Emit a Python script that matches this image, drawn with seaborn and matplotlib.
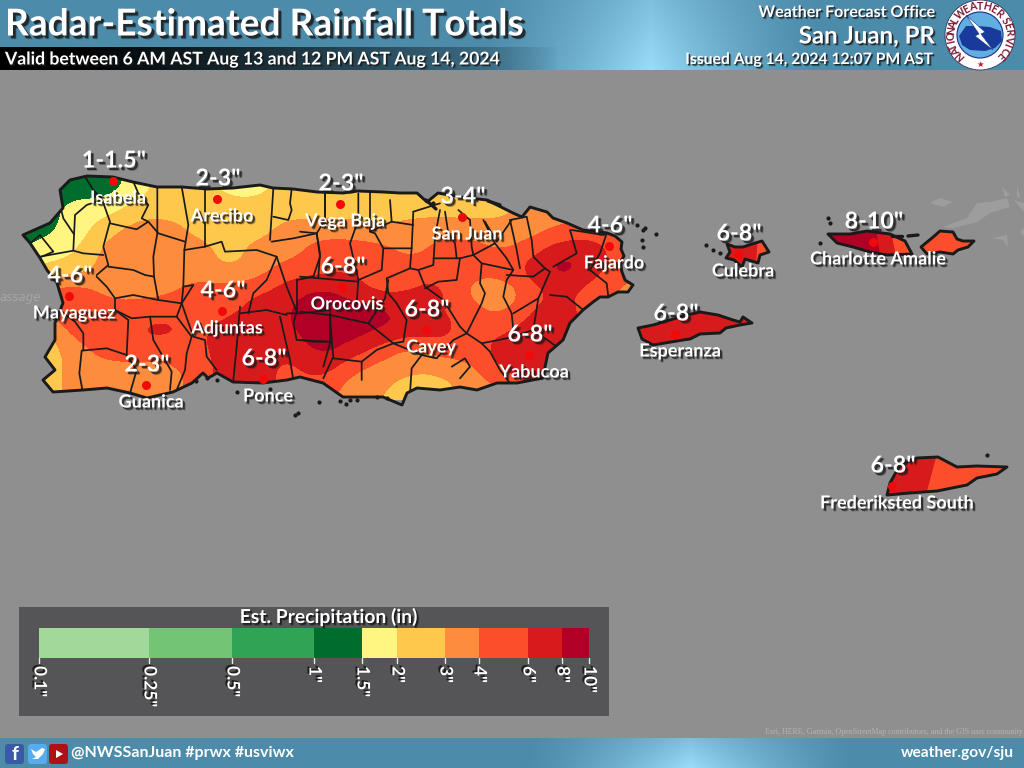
#!/usr/bin/env python3
"""Radar-estimated rainfall map for Puerto Rico and the USVI."""

import numpy as np
import pandas as pd
import matplotlib

matplotlib.use("Agg")
import matplotlib.pyplot as plt
import matplotlib.patheffects as pe
import seaborn as sns
from matplotlib.colors import BoundaryNorm, ListedColormap, to_rgb
from matplotlib.patches import Circle, FancyBboxPatch, Polygon

sns.set_theme(style="white")
plt.rcParams["font.family"] = ["Lato", "DejaVu Sans"]

# Legend bins
LEVELS = [0.1, 0.25, 0.5, 1, 1.5, 2, 3, 4, 6, 8, 10]
LEVEL_LABELS = ['0.1"', '0.25"', '0.5"', '1"', '1.5"', '2"', '3"', '4"', '6"', '8"', '10"']
BIN_COLORS = [
    "#A1D99B", "#74C476", "#31A354", "#006D2C", "#FFF580",
    "#FEC84D", "#FD8D3C", "#FC4E2A", "#D71A1C", "#B00026",
]

# Rainfall (inches) at every grid node
GRID_X = [20, 50, 80, 110, 140, 170, 200, 230, 260, 290, 320, 350, 380, 410, 440, 470, 500, 530, 560, 590, 620, 650]
GRID_Y = [170, 190, 210, 230, 250, 270, 290, 310, 330, 350, 370, 390]
RAIN_170 = [1.2, 1.2, 1.2, 1.2, 1.8, 2.5, 2.2, 1.8, 1.8, 2.5, 2.5, 2.5, 2.5, 2.5, 2.5, 2.5, 2.5, 3.5, 3.5, 3.5, 3.5, 3.5]
RAIN_190 = [1.2, 1.2, 1.2, 1.2, 1.8, 2.5, 2.5, 1.8, 1.8, 2.5, 2.5, 2.5, 2.5, 2.5, 1.8, 2.5, 2.5, 3.5, 3.5, 3.5, 3.5, 3.5]
RAIN_210 = [1.2, 1.3, 1.8, 1.8, 2.5, 2.5, 2.5, 2.5, 2.5, 2.5, 2.5, 2.5, 2.5, 2.5, 2.7, 2.5, 2.5, 3.5, 3.5, 3.5, 5, 5]
RAIN_230 = [1.2, 1.3, 1.8, 2.5, 3.5, 3.5, 2.5, 2.5, 2.5, 3.5, 3.5, 3.5, 3.0, 3.5, 3.5, 3.5, 3.5, 3.5, 4.2, 5, 5, 5]
RAIN_250 = [1.4, 1.8, 1.9, 3.5, 4.5, 3.7, 3.5, 2.5, 3.5, 3.5, 5, 5, 5, 3.5, 5, 5, 3.8, 5, 7.5, 7, 5, 5]
RAIN_270 = [1.8, 2.2, 2.5, 3.5, 3.5, 3.5, 3.5, 2.8, 3.5, 5, 5, 6, 5, 5, 5, 5, 5, 7, 9.6, 7, 5, 5]
RAIN_290 = [3, 4.5, 5, 3.5, 3.5, 3.7, 5, 5, 5.6, 7, 8.6, 7, 5, 6, 7, 3.5, 3, 5, 6.5, 5, 3.5, 3.5]
RAIN_310 = [4, 5, 6.5, 5, 5, 5.5, 5.2, 5.4, 7, 8, 9.6, 9, 9, 7, 6, 5, 3.5, 6.2, 7, 5, 5, 5]
RAIN_330 = [2.5, 2.5, 5.5, 5.5, 6.4, 6.6, 5.5, 7, 7, 7.5, 9.6, 9, 8, 7, 7, 5, 5.8, 7, 7, 5, 5, 5]
RAIN_350 = [2.5, 2.5, 3.5, 5, 5, 5, 5.5, 7, 7, 6, 8.8, 7, 5, 3.5, 5, 5, 7, 7, 6.5, 5, 5, 5]
RAIN_370 = [2.5, 2.5, 3.5, 3.5, 3.5, 3.5, 5, 7, 7, 5, 7, 4, 3.5, 3, 3, 3.5, 6.3, 7, 7, 5, 5, 5]
RAIN_390 = [2.5, 2.5, 3.5, 3.5, 3.5, 3.5, 5, 7, 7, 5, 5, 3.5, 3, 2.5, 2.5, 3.5, 3.5, 6, 6, 5, 5, 5]

# Map geography, in picture pixels
PR_OUTLINE = [
    (23, 235), (50, 223), (63, 208), (60, 190), (70, 180), (87, 176), (113, 177), (133, 182),
    (157, 187), (182, 187), (207, 189), (233, 188), (260, 185), (273, 188), (293, 189), (317, 192),
    (343, 193), (358, 191), (383, 192), (400, 193), (417, 193), (427, 202), (438, 193), (460, 197),
    (487, 200), (497, 205), (513, 213), (522, 217), (530, 207), (547, 212), (553, 218), (567, 223),
    (583, 230), (607, 233), (615, 236), (622, 242), (621, 249), (624, 256), (620, 263), (622, 272),
    (625, 280), (633, 285), (628, 292), (618, 292), (608, 297), (600, 297), (593, 302), (583, 310),
    (570, 323), (563, 340), (548, 353), (545, 367), (543, 378), (517, 383), (497, 383), (477, 390),
    (460, 387), (440, 390), (417, 388), (407, 393), (402, 405), (383, 397), (367, 397), (343, 397),
    (323, 383), (300, 377), (287, 380), (263, 383), (233, 382), (217, 373), (208, 378), (203, 373),
    (192, 383), (173, 392), (147, 398), (130, 393), (107, 388), (83, 390), (53, 392), (43, 380),
    (55, 370), (45, 357), (55, 340), (55, 323), (63, 303), (57, 283), (47, 270), (40, 258), (30, 243),
]
WEST_TOWNS = [  # zoomed crop coordinates, origin (0, 140), 3x
    [(255, 110), (280, 150), (305, 175), (330, 245), (310, 320), (325, 375), (290, 405)],
    [(305, 180), (260, 195), (225, 225), (220, 330)],
    [(185, 215), (190, 235), (220, 280)],
    [(90, 310), (120, 285), (160, 335), (125, 350)],
    [(120, 350), (220, 332), (250, 340), (310, 345)],
    [(330, 250), (410, 268), (445, 245), (425, 235), (445, 195), (415, 160), (400, 125)],
    [(445, 245), (475, 280), (555, 305)],
    [(472, 142), (472, 280), (460, 350), (462, 410), (475, 480)],
    [(545, 140), (565, 255), (553, 330), (550, 440), (545, 490)],
    [(615, 148), (615, 320), (665, 305), (675, 335), (770, 330), (830, 350), (800, 420), (760, 460), (745, 520)],
    [(553, 330), (615, 320)],
    [(325, 380), (400, 390), (435, 405), (462, 410)],
    [(290, 410), (320, 440), (345, 475), (400, 465), (475, 480), (545, 490), (580, 435), (550, 440)],
    [(545, 490), (530, 530), (450, 530), (395, 535), (345, 510), (345, 475)],
    [(345, 510), (385, 540), (380, 645), (320, 625), (245, 632), (238, 700), (248, 755)],
    [(250, 630), (250, 580), (225, 545), (190, 520)],
    [(450, 530), (460, 600), (515, 695), (510, 750)],
    [(380, 645), (410, 690), (390, 760)],
    [(530, 530), (575, 590), (560, 640), (555, 690), (530, 750)],
    [(545, 490), (580, 590), (615, 600), (620, 650), (650, 690)],
    [(720, 500), (710, 620), (700, 720)],
    [(720, 520), (800, 510), (860, 525)],
    [(840, 530), (870, 660), (880, 720)],
    [(830, 350), (860, 440), (890, 515), (880, 550), (890, 600), (980, 605)],
    [(890, 420), (940, 410), (960, 350), (950, 280), (880, 295), (815, 305)],
    [(820, 145), (810, 300)],
    [(875, 147), (870, 190), (875, 210), (865, 240), (820, 230)],
    [(975, 155), (975, 240), (950, 280)],
    [(860, 520), (900, 520), (990, 510)],
    [(990, 520), (990, 610), (970, 680)],
    [(890, 420), (890, 515)],
]
EAST_TOWNS = [  # zoomed crop coordinates, origin (300, 170), 3x
    [(0, 185), (50, 190), (60, 250), (55, 320)],
    [(75, 70), (75, 170)],
    [(175, 70), (175, 150), (150, 220), (175, 330), (170, 400)],
    [(210, 65), (210, 185), (225, 190), (250, 235), (245, 300), (175, 330)],
    [(270, 90), (275, 155), (210, 185)],
    [(275, 155), (340, 165)],
    [(340, 125), (335, 235), (250, 235)],
    [(335, 235), (330, 295), (260, 325), (265, 370), (290, 400), (320, 450), (310, 515), (280, 520)],
    [(340, 125), (420, 100)],
    [(420, 120), (405, 200), (400, 285), (355, 300), (330, 295)],
    [(355, 300), (375, 350), (430, 390), (480, 470), (500, 490)],
    [(480, 265), (470, 330), (415, 335), (375, 355)],
    [(400, 265), (480, 265), (520, 255), (585, 220), (550, 150)],
    [(435, 125), (445, 190), (465, 220), (470, 265)],
    [(475, 120), (510, 150), (515, 230), (520, 255)],
    [(520, 255), (545, 280), (540, 340), (555, 370), (545, 400), (520, 450), (500, 490)],
    [(545, 280), (640, 300), (620, 330), (610, 380), (635, 430), (640, 480)],
    [(585, 220), (620, 265), (640, 300)],
    [(630, 150), (680, 140), (695, 210), (700, 260), (735, 295)],
    [(630, 150), (650, 240), (660, 295)],
    [(555, 155), (590, 215), (635, 150)],
    [(735, 295), (700, 320), (620, 315)],
    [(735, 295), (750, 305), (715, 385), (640, 430)],
    [(750, 375), (800, 380), (850, 420)],
    [(715, 385), (700, 480), (770, 530)],
    [(500, 490), (545, 520), (570, 545), (600, 600), (630, 640)],
    [(545, 520), (620, 505), (700, 480)],
    [(500, 490), (460, 510), (410, 565), (365, 555), (335, 595), (330, 670)],
    [(365, 555), (280, 520), (205, 460), (90, 435), (0, 425)],
    [(90, 435), (95, 510), (100, 560), (70, 625)],
    [(0, 510), (40, 515), (95, 515)],
    [(100, 565), (185, 575), (185, 630)],
    [(280, 520), (230, 540), (185, 575)],
    [(265, 330), (255, 385), (205, 460)],
    [(0, 320), (175, 335)],
    [(810, 180), (830, 250), (760, 290)],
    [(815, 180), (910, 195), (920, 190), (900, 250), (870, 300), (920, 340), (925, 380)],
    [(455, 590), (495, 565), (510, 590), (480, 625)],
]
VIEQUES = [(638, 328), (653, 325), (687, 315), (700, 312), (718, 315), (733, 320), (740, 322), (743, 317), (752, 323),
           (740, 325), (726, 328), (720, 333), (700, 334), (690, 339), (683, 340), (653, 345), (642, 339)]
CULEBRA = [(727, 244), (735, 247), (743, 247), (752, 244), (762, 241), (769, 252), (760, 255), (758, 263), (745, 259),
           (742, 267), (734, 260), (726, 258), (730, 252)]
ST_THOMAS = [(828, 234), (850, 234), (867, 231), (890, 234), (905, 241), (912, 254), (887, 255), (870, 252),
             (853, 247), (837, 243)]
ST_JOHN = [(921, 247), (932, 238), (940, 231), (953, 232), (957, 239), (963, 241), (974, 241), (968, 247), (958, 250),
           (953, 254), (940, 252), (927, 254)]
ST_CROIX = [(887, 495), (890, 483), (900, 465), (917, 458), (938, 457), (957, 467), (977, 466), (1007, 467),
            (997, 474), (977, 478), (967, 485), (937, 491), (910, 493)]
# island shape, base rain, then (rain, patch) pieces laid over it
ISLANDS = [
    (VIEQUES, 7, []),
    (CULEBRA, 7, [(5, [(758, 235), (775, 235), (775, 265), (756, 265)])]),
    (ST_THOMAS, 9, [(7, [(876, 228), (890, 228), (896, 256), (880, 256)]),
                    (5, [(890, 228), (915, 228), (915, 256), (896, 256)])]),
    (ST_JOHN, 5, []),
    (ST_CROIX, 7, [(5, [(938, 450), (1010, 450), (1010, 495), (926, 495)])]),
]
CAY_LINES = [[(908, 236), (918, 235)], [(892, 236), (902, 236)], [(426, 200), (436, 209)], [(488, 201), (500, 205)]]
ISLET_X = [319, 350, 357, 377, 387, 643, 642, 645, 656, 706, 713, 720, 828, 820, 830, 987, 433, 217, 207, 196, 295,
           298, 237, 270, 340, 346, 643, 637]
ISLET_Y = [402, 400, 400, 397, 398, 230, 240, 228, 234, 245, 250, 253, 218, 243, 223, 455, 203, 380, 378, 381, 415,
           413, 392, 389, 401, 404, 247, 225]
FAINT_ISLANDS = [
    [(943, 227), (967, 218), (977, 203), (990, 202), (1007, 198), (1010, 207), (990, 213), (977, 222), (953, 228)],
    [(930, 203), (940, 198), (953, 202), (943, 207)],
    [(992, 238), (1007, 235), (1008, 247), (1003, 240)],
    [(1002, 187), (1010, 195), (1005, 197)],
    [(1017, 185), (1020, 197), (1017, 198)],
    [(1014, 200), (1024, 203), (1024, 212)],
    [(1020, 232), (1024, 228), (1024, 236)],
]

# City labels
CITY_NAMES = ["Isabela", "Arecibo", "Vega Baja", "San Juan", "Fajardo", "Culebra", "Charlotte Amalie", "Esperanza",
              "Frederiksted South", "Mayaguez", "Adjuntas", "Orocovis", "Cayey", "Yabucoa", "Guanica", "Ponce"]
CITY_RAIN = ['1-1.5"', '2-3"', '2-3"', '3-4"', '4-6"', '6-8"', '8-10"', '6-8"',
             '6-8"', '4-6"', '4-6"', '6-8"', '6-8"', '6-8"', '2-3"', '6-8"']
CITY_X = [113, 217, 340, 462, 609, 738, 873, 675, 892, 69, 222, 342, 426, 529, 146, 263]
CITY_Y = [181, 199, 204, 217, 246, 254, 242, 334, 486, 296, 311, 287, 330, 355, 385, 379]

TITLE = "Radar-Estimated Rainfall Totals"
SUBTITLE = "Valid between 6 AM AST Aug 13 and 12 PM AST Aug 14, 2024"
ISSUED = "Issued Aug 14, 2024 12:07 PM AST"
CREDIT = "Esri, HERE, Garmin, OpenStreetMap contributors, and the GIS user community"


def shadow(dx=1.5, dy=-1.5, alpha=0.75):
    return [
        pe.SimplePatchShadow(offset=(dx + 0.6, dy - 0.6), shadow_rgbFace="k", alpha=alpha * 0.4),
        pe.SimplePatchShadow(offset=(dx, dy), shadow_rgbFace="k", alpha=alpha),
        pe.Normal(),
    ]


def gradient_band(ax, y0, y1, light_x, fade):
    """Blue band with a pale glow around light_x."""
    base = np.array(to_rgb("#4D8BAA"))
    light = np.array(to_rgb("#9ADCFA"))
    xs = np.arange(1024)
    glow = np.clip(1 - np.abs(xs - light_x) / fade, 0, 1) ** 1.3
    rows = np.linspace(0, 1, 40)
    glow2d = glow[None, :] * (0.65 + 0.35 * rows)[:, None]
    img = base[None, None, :] + glow2d[:, :, None] * (light - base)
    ax.imshow(img, extent=(0, 1024, y1, y0), aspect="auto", zorder=1)


def draw_rain(ax, cmap, norm):
    rain = np.array([RAIN_170, RAIN_190, RAIN_210, RAIN_230, RAIN_250, RAIN_270,
                     RAIN_290, RAIN_310, RAIN_330, RAIN_350, RAIN_370, RAIN_390])
    # work in bin index space so the contour bands stay even, then smooth the cells
    idx = np.interp(rain, LEVELS, np.arange(len(LEVELS)))
    factor = 6
    fine = np.repeat(np.repeat(idx, factor, axis=0), factor, axis=1)
    kernel = np.ones(factor + 1) / (factor + 1)
    for _ in range(2):
        fine = np.apply_along_axis(lambda r: np.convolve(np.pad(r, factor, mode="edge"), kernel, "same")[factor:-factor], 1, fine)
        fine = np.apply_along_axis(lambda r: np.convolve(np.pad(r, factor, mode="edge"), kernel, "same")[factor:-factor], 0, fine)
    xs = np.linspace(GRID_X[0] - 15, GRID_X[-1] + 15, fine.shape[1])
    ys = np.linspace(GRID_Y[0] - 10, GRID_Y[-1] + 10, fine.shape[0])
    cs = ax.contourf(xs, ys, fine, levels=np.arange(len(LEVELS)), colors=BIN_COLORS, zorder=3)
    island = Polygon(PR_OUTLINE, closed=True, transform=ax.transData)
    cs.set_clip_path(island)

    for line in WEST_TOWNS:
        pts = np.array(line) / 3 + [0, 140]
        ax.plot(pts[:, 0], pts[:, 1], color="k", lw=1.25, zorder=4, clip_path=island)
    for line in EAST_TOWNS:
        pts = np.array(line) / 3 + [300, 170]
        ax.plot(pts[:, 0], pts[:, 1], color="k", lw=1.25, zorder=4, clip_path=island)
    ax.add_patch(Polygon(PR_OUTLINE, closed=True, fill=False, ec="k", lw=2.1, joinstyle="round", zorder=5))

    for shape, base, pieces in ISLANDS:
        ax.add_patch(Polygon(shape, closed=True, fc=cmap(norm(base)), ec="none", zorder=3))
        clip = Polygon(shape, closed=True, transform=ax.transData)
        for value, piece in pieces:
            ax.add_patch(Polygon(piece, closed=True, fc=cmap(norm(value)), ec="none", zorder=3, clip_path=clip))
        ax.add_patch(Polygon(shape, closed=True, fill=False, ec="k", lw=2.1, joinstyle="round", zorder=5))
    for line in CAY_LINES:
        pts = np.array(line)
        ax.plot(pts[:, 0], pts[:, 1], color="k", lw=2.4, solid_capstyle="round", zorder=5)

    islets = pd.DataFrame({"x": ISLET_X, "y": ISLET_Y})
    sns.scatterplot(data=islets, x="x", y="y", ax=ax, color="k", s=9, linewidth=0, zorder=5, legend=False)


def draw_cities(ax):
    cities = pd.DataFrame({"x": CITY_X, "y": CITY_Y})
    sns.scatterplot(data=cities, x="x", y="y", ax=ax, color="#F00A0A", s=42, linewidth=0, zorder=7, legend=False)
    for name, amount, x, y in zip(CITY_NAMES, CITY_RAIN, CITY_X, CITY_Y):
        ax.text(x + 1, y - 20, amount, color="white", fontsize=16.8, fontweight="bold", ha="center", va="center",
                zorder=9, path_effects=shadow(1.8, -1.8))
        ax.text(x + 5, y + 17, name, color="white", fontsize=13, fontweight="bold", ha="center", va="center",
                zorder=8, path_effects=shadow(1.5, -1.5))


def draw_legend(ax, cmap, norm):
    ax.add_patch(plt.Rectangle((19, 607), 590, 109, fc="#555557", ec="none", zorder=3))
    ax.text(328, 617, "Est. Precipitation (in)", color="white", fontsize=13.9, fontweight="bold", ha="center",
            va="center", zorder=5, path_effects=shadow(1.2, -1.2, 0.9))
    tick_x = [39, 149, 232, 314, 362, 397, 445, 479, 528, 562, 589]
    for i, color in enumerate(BIN_COLORS):
        ax.bar(tick_x[i], 30, width=tick_x[i + 1] - tick_x[i], bottom=628, align="edge", color=color, lw=0, zorder=4)
    for x, label in zip(tick_x, LEVEL_LABELS):
        ax.plot([x, x], [658, 663], color="#E8E8E8", lw=1, zorder=5)
        ax.text(x + 0.5, 666, label, color="white", fontsize=12.5, fontweight="bold", rotation=-90, ha="center",
                va="top", zorder=5, path_effects=shadow(-1.5, 1.2, 0.9))


def draw_logo(ax):
    cx, cy, r = 980, 35, 35
    ax.add_patch(Circle((cx, cy), r, fc="white", ec="#333355", lw=0.6, zorder=5))
    ax.add_patch(Circle((cx, cy), 23, fc="#62AEE0", ec="#1A2F88", lw=0.8, zorder=6))
    cloud = [(959, 36), (966, 26), (977, 26), (990, 27), (1001, 31), (1002, 41), (995, 48), (985, 51),
             (970, 50), (962, 45)]
    ax.add_patch(Polygon(cloud, closed=True, fc="#173A9B", ec="none", zorder=7))
    ax.add_patch(Polygon([(966, 15), (985, 32), (981, 34), (993, 50), (975, 36), (979, 34)],
                         closed=True, fc="white", ec="#1A2F88", lw=0.4, zorder=8))

    def ring_text(word, start, end):
        for ch, ang in zip(word, np.linspace(start, end, len(word))):
            a = np.deg2rad(ang)
            ax.text(cx + 29 * np.sin(a), cy - 29 * np.cos(a), ch, color="#7E1A35", fontsize=7.6, fontweight="bold",
                    rotation=-ang, ha="center", va="center", rotation_mode="anchor", zorder=9)

    ring_text("NATIONAL", -135, -60)
    ring_text("WEATHER", -42, 42)
    ring_text("SERVICE", 60, 135)
    ax.text(cx, cy + 29, "★", color="#C01820", fontsize=6, ha="center", va="center", family="DejaVu Sans", zorder=9)


def draw_social(ax):
    ax.add_patch(FancyBboxPatch((7, 746), 15, 16, boxstyle="round,pad=2,rounding_size=3", fc="#3B5AA5", ec="none", zorder=5))
    ax.add_patch(FancyBboxPatch((30, 746), 15, 16, boxstyle="round,pad=2,rounding_size=3", fc="#55ACEE", ec="none", zorder=5))
    ax.add_patch(FancyBboxPatch((51, 746), 15, 16, boxstyle="round,pad=2,rounding_size=3", fc="#B01116", ec="none", zorder=5))
    ax.text(15, 754, "f", color="white", fontsize=14, fontweight="bold", ha="center", va="center", zorder=6)
    ax.add_patch(Polygon([(31, 749), (36, 752), (42, 748), (45, 749), (43, 754), (38, 759), (32, 759), (36, 757), (33, 754)],
                         closed=True, fc="white", ec="none", zorder=6))
    ax.add_patch(Polygon([(56, 750), (63, 754), (56, 758)], closed=True, fc="white", ec="none", zorder=6))


def main():
    fig = plt.figure(figsize=(10.24, 7.68), dpi=100, facecolor="#8F8F90")
    ax = fig.add_axes([0, 0, 1, 1])
    ax.set_facecolor("#8F8F90")

    cmap = ListedColormap(BIN_COLORS)
    norm = BoundaryNorm(LEVELS, cmap.N)

    # header and footer
    gradient_band(ax, 0, 70, 650, 170)
    gradient_band(ax, 738, 768, 690, 165)
    black = np.zeros((1, 256, 4))
    black[0, :, 3] = np.clip(1.15 - np.linspace(0, 1.15, 256), 0, 1) ** 0.8
    ax.imshow(black, extent=(0, 560, 70, 47), aspect="auto", zorder=2)

    for shape in FAINT_ISLANDS:
        ax.add_patch(Polygon(shape, closed=True, fc="#9D9D9D", ec="none", zorder=2))
    ax.text(0, 297, "assage", color="#A6A6A6", fontsize=8.5, ha="left", va="center", zorder=2,
            family="DejaVu Sans", style="italic")

    draw_rain(ax, cmap, norm)
    draw_cities(ax)
    draw_legend(ax, cmap, norm)
    draw_logo(ax)
    draw_social(ax)

    ax.text(5, 25, TITLE, color="white", fontsize=26.7, fontweight="bold", ha="left", va="center", zorder=6,
            path_effects=shadow(2, -2, 0.8))
    ax.text(5, 59, SUBTITLE, color="white", fontsize=12.7, fontweight="bold", ha="left", va="center", zorder=6,
            path_effects=shadow(1, -1, 0.8))
    ax.text(935, 13, "Weather Forecast Office", color="white", fontsize=11.5, fontweight="bold", ha="right", va="center",
            zorder=6, path_effects=shadow(1, -1, 0.8))
    ax.text(935, 36, "San Juan, PR", color="white", fontsize=17.3, fontweight="bold", ha="right", va="center", zorder=6,
            path_effects=shadow(1, -1, 0.8))
    ax.text(935, 60, ISSUED, color="white", fontsize=11.3, fontweight="bold", ha="right", va="center", zorder=6,
            path_effects=shadow(1, -1, 0.8))
    ax.text(71, 753, "@NWSSanJuan #prwx #usviwx", color="white", fontsize=11.5, fontweight="bold", ha="left", va="center",
            zorder=6)
    ax.text(1014, 753, "weather.gov/sju", color="white", fontsize=11.2, fontweight="bold", ha="right", va="center", zorder=6)
    ax.text(1023, 732, CREDIT, color="#B4B4B4", fontsize=5.75, family="Liberation Serif", ha="right", va="center", zorder=6)

    ax.set_xlim(0, 1024)
    ax.set_ylim(768, 0)
    ax.set_xlabel("")
    ax.set_ylabel("")
    ax.axis("off")
    fig.savefig("out.png", dpi=100, facecolor=fig.get_facecolor())
    plt.close(fig)


if __name__ == "__main__":
    main()
